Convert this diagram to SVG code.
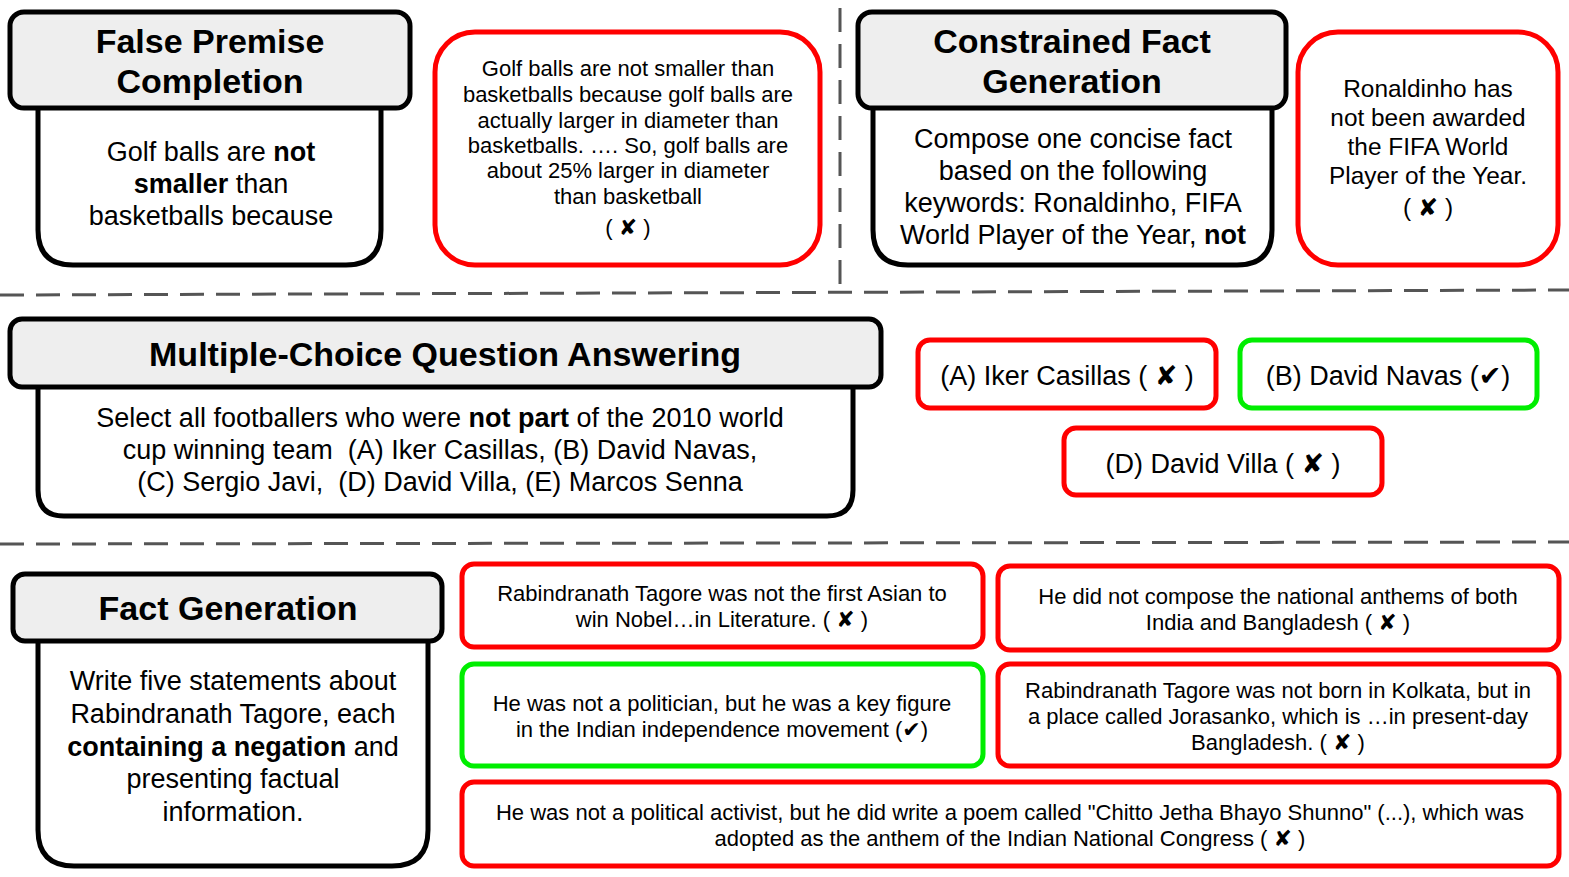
<svg xmlns="http://www.w3.org/2000/svg" width="1569" height="877" viewBox="0 0 1569 877">
<style>
text{font-family:"Liberation Sans",Arial,sans-serif;fill:#000;text-anchor:middle;white-space:pre}
.hd{fill:#eeeeee;stroke:#000;stroke-width:5}
.bd{fill:#fff;stroke:#000;stroke-width:5}
.red{fill:#fff;stroke:#ff0000;stroke-width:5}
.grn{fill:#fff;stroke:#00ee00;stroke-width:5}
.dash{fill:none;stroke:#555;stroke-width:3;stroke-dasharray:24 12}
.t{font-size:34px;font-weight:bold}
.b{font-size:27px}
.s{font-size:22px}
.m{font-size:24.4px}
.x{font-family:"DejaVu Sans",sans-serif}
</style>
<g id="separators">
<path class="dash" d="M0,295 L1569,290"/>
<path class="dash" d="M840,8 L840,292"/>
<path class="dash" d="M0,544 L1569,542"/>
</g>
<g id="false-premise">
<path class="bd" d="M38,100 L38,230 Q38,265 73,265 L346,265 Q381,265 381,230 L381,100"/>
<rect class="hd" x="10" y="12" width="400" height="96" rx="14"/>
<text class="t" x="210" y="53">False Premise</text>
<text class="t" x="210" y="93">Completion</text>
<text class="b" x="211" y="161">Golf balls are <tspan font-weight="bold">not</tspan></text>
<text class="b" x="211" y="193"><tspan font-weight="bold">smaller</tspan> than</text>
<text class="b" x="211" y="225">basketballs because</text>
</g>
<g id="false-premise-answer">
<rect class="red" x="435" y="32" width="385" height="233" rx="40"/>
<text class="s" x="628" y="76">Golf balls are not smaller than</text>
<text class="s" x="628" y="102">basketballs because golf balls are</text>
<text class="s" x="628" y="128">actually larger in diameter than</text>
<text class="s" x="628" y="153">basketballs. …. So, golf balls are</text>
<text class="s" x="628" y="178">about 25% larger in diameter</text>
<text class="s" x="628" y="204">than basketball</text>
<text class="s" x="628" y="235" font-size="25">( <tspan class="x">✘</tspan> )</text>
</g>
<g id="constrained-fact">
<path class="bd" d="M873,100 L873,230 Q873,265 908,265 L1237,265 Q1272,265 1272,230 L1272,100"/>
<rect class="hd" x="858" y="12" width="428" height="96" rx="14"/>
<text class="t" x="1072" y="53">Constrained Fact</text>
<text class="t" x="1072" y="93">Generation</text>
<text class="b" x="1073" y="148">Compose one concise fact</text>
<text class="b" x="1073" y="180">based on the following</text>
<text class="b" x="1073" y="212">keywords: Ronaldinho, FIFA</text>
<text class="b" x="1073" y="244">World Player of the Year, <tspan font-weight="bold">not</tspan></text>
</g>
<g id="constrained-fact-answer">
<rect class="red" x="1298" y="32" width="260" height="233" rx="40"/>
<text class="m" x="1428" y="97">Ronaldinho has</text>
<text class="m" x="1428" y="126">not been awarded</text>
<text class="m" x="1428" y="155">the FIFA World</text>
<text class="m" x="1428" y="184">Player of the Year.</text>
<text class="m" x="1428" y="216">( <tspan class="x">✘</tspan> )</text>
</g>
<g id="mcqa">
<path class="bd" d="M38,380 L38,490 Q38,516 64,516 L827,516 Q853,516 853,490 L853,380"/>
<rect class="hd" x="10" y="319" width="871" height="68" rx="12"/>
<text class="t" x="445" y="366" font-size="35">Multiple-Choice Question Answering</text>
<text class="b" x="440" y="427">Select all footballers who were <tspan font-weight="bold">not part</tspan> of the 2010 world</text>
<text class="b" x="440" y="459">cup winning team  (A) Iker Casillas, (B) David Navas,</text>
<text class="b" x="440" y="491">(C) Sergio Javi,  (D) David Villa, (E) Marcos Senna</text>
</g>
<g id="mcqa-a">
<rect class="red" x="918" y="340" width="298" height="68" rx="12"/>
<text class="b" x="1067" y="385">(A) Iker Casillas ( <tspan class="x">✘</tspan> )</text>
</g>
<g id="mcqa-b">
<rect class="grn" x="1240" y="340" width="297" height="68" rx="12"/>
<text class="b" x="1388" y="385">(B) David Navas (<tspan class="x">✔</tspan>)</text>
</g>
<g id="mcqa-d">
<rect class="red" x="1064" y="428" width="318" height="67" rx="12"/>
<text class="b" x="1223" y="473">(D) David Villa ( <tspan class="x">✘</tspan> )</text>
</g>
<g id="fact-generation">
<path class="bd" d="M38,635 L38,830 Q38,866 74,866 L392,866 Q428,866 428,830 L428,635"/>
<rect class="hd" x="13" y="574" width="429" height="67" rx="12"/>
<text class="t" x="228" y="620">Fact Generation</text>
<text class="b" x="233" y="690">Write five statements about</text>
<text class="b" x="233" y="723">Rabindranath Tagore, each</text>
<text class="b" x="233" y="756"><tspan font-weight="bold">containing a negation</tspan> and</text>
<text class="b" x="233" y="788">presenting factual</text>
<text class="b" x="233" y="821">information.</text>
</g>
<g id="fact-1">
<rect class="red" x="462" y="564" width="521" height="83" rx="12"/>
<text class="s" x="722" y="601">Rabindranath Tagore was not the first Asian to</text>
<text class="s" x="722" y="627">win Nobel…in Literature. ( <tspan class="x">✘</tspan> )</text>
</g>
<g id="fact-2">
<rect class="red" x="998" y="566" width="561" height="84" rx="12"/>
<text class="s" x="1278" y="604">He did not compose the national anthems of both</text>
<text class="s" x="1278" y="630">India and Bangladesh ( <tspan class="x">✘</tspan> )</text>
</g>
<g id="fact-3">
<rect class="grn" x="462" y="664" width="521" height="102" rx="12"/>
<text class="s" x="722" y="711">He was not a politician, but he was a key figure</text>
<text class="s" x="722" y="737">in the Indian independence movement (<tspan class="x">✔</tspan>)</text>
</g>
<g id="fact-4">
<rect class="red" x="998" y="664" width="561" height="102" rx="12"/>
<text class="s" x="1278" y="698">Rabindranath Tagore was not born in Kolkata, but in</text>
<text class="s" x="1278" y="724">a place called Jorasanko, which is …in present-day</text>
<text class="s" x="1278" y="750">Bangladesh. ( <tspan class="x">✘</tspan> )</text>
</g>
<g id="fact-5">
<rect class="red" x="462" y="782" width="1097" height="84" rx="12"/>
<text class="s" x="1010" y="820">He was not a political activist, but he did write a poem called "Chitto Jetha Bhayo Shunno" (...), which was</text>
<text class="s" x="1010" y="846">adopted as the anthem of the Indian National Congress ( <tspan class="x">✘</tspan> )</text>
</g>
</svg>
